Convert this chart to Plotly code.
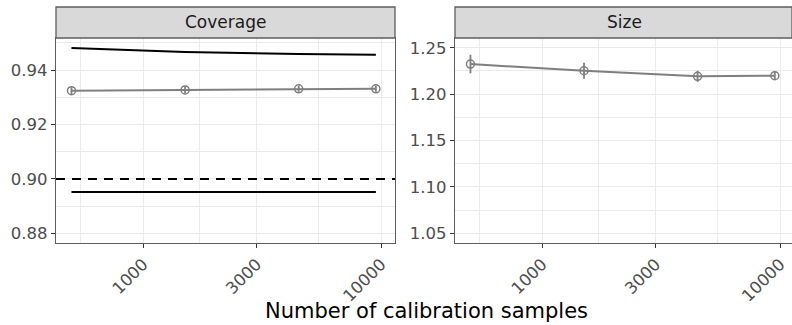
import plotly.graph_objects as go

# ---------------- data ----------------
n_samples = [500, 1500, 4500, 9500]
coverage = [0.9324, 0.9327, 0.9331, 0.9331]
coverage_err = [0.0013, 0.0012, 0.0011, 0.0011]
upper_bound = [0.9481, 0.9466, 0.9459, 0.9456]
lower_bound = [0.8952, 0.8952, 0.8952, 0.8952]
target_coverage = 0.90
size = [1.2324, 1.2252, 1.2192, 1.2199]
size_err = [0.0100, 0.0085, 0.0060, 0.0045]
panels = ["Coverage", "Size"]
x_ticks = [1000, 3000, 10000]
x_minor = [548, 1732, 5477]
cov_ticks = [0.88, 0.90, 0.92, 0.94]
cov_minor = [0.87, 0.89, 0.91, 0.93, 0.95]
size_ticks = [1.05, 1.10, 1.15, 1.20, 1.25]
size_minor = [1.025, 1.075, 1.125, 1.175, 1.225, 1.275]
x_title = "Number of calibration samples"

# ---------------- style ----------------
W, H = 792, 325
FONT = "DejaVu Sans"
GREY = "#7F7F7F"
GRID = "#EBEBEB"
BORDER = "#5E5E5E"
TICKC = "#333333"
TICKTXT = "#4D4D4D"

fig = go.Figure()

# Coverage panel
fig.add_trace(go.Scatter(x=n_samples, y=upper_bound, mode="lines",
                         line=dict(color="black", width=2), xaxis="x", yaxis="y",
                         showlegend=False, hoverinfo="skip"))
fig.add_trace(go.Scatter(x=n_samples, y=lower_bound, mode="lines",
                         line=dict(color="black", width=2), xaxis="x", yaxis="y",
                         showlegend=False, hoverinfo="skip"))
fig.add_trace(go.Scatter(x=n_samples, y=coverage, mode="lines+markers",
                         line=dict(color=GREY, width=2),
                         marker=dict(symbol="circle-open", size=8, color=GREY,
                                     line=dict(width=1.5, color=GREY)),
                         error_y=dict(type="data", array=coverage_err, width=0,
                                      color=GREY, thickness=1.8),
                         xaxis="x", yaxis="y", showlegend=False))

# Size panel
fig.add_trace(go.Scatter(x=n_samples, y=size, mode="lines+markers",
                         line=dict(color=GREY, width=2),
                         marker=dict(symbol="circle-open", size=8, color=GREY,
                                     line=dict(width=1.5, color=GREY)),
                         error_y=dict(type="data", array=size_err, width=0,
                                      color=GREY, thickness=1.8),
                         xaxis="x2", yaxis="y2", showlegend=False))

# dashed target line
fig.add_shape(type="line", xref="x domain", yref="y", x0=0, x1=1,
              y0=target_coverage, y1=target_coverage,
              line=dict(color="black", width=2, dash="9px,7px"), layer="above")

px = lambda v: v / W
py = lambda v: 1 - v / H

xd1 = [px(56), px(395)]
xd2 = [px(455), 1.0]
yd = [py(243), py(38)]
xrange1 = [2.634, 4.058]
xrange2 = [2.634, 4.050]

common_x = dict(type="log", tickvals=x_ticks, ticktext=[str(v) for v in x_ticks],
                tickangle=-45, ticks="outside", ticklen=4, tickwidth=1.4,
                tickcolor=TICKC, showgrid=True, gridcolor=GRID, gridwidth=1.2,
                minor=dict(tickvals=x_minor, showgrid=True, gridcolor=GRID, gridwidth=0.6),
                showline=True, linecolor=BORDER, linewidth=1.3, mirror=True,
                zeroline=False, automargin=False,
                tickfont=dict(family=FONT, size=16.5, color=TICKTXT))
common_y = dict(ticks="outside", ticklen=4, tickwidth=1.4, tickcolor=TICKC,
                showgrid=True, gridcolor=GRID, gridwidth=1.2,
                showline=True, linecolor=BORDER, linewidth=1.3, mirror=True,
                zeroline=False, automargin=False,
                tickfont=dict(family=FONT, size=16.5, color=TICKTXT))

fig.update_layout(
    width=W, height=H, margin=dict(l=0, r=0, t=0, b=0),
    template="none", paper_bgcolor="white", plot_bgcolor="white",
    xaxis=dict(domain=xd1, range=xrange1, anchor="y", **common_x),
    xaxis2=dict(domain=xd2, range=xrange2, anchor="y2", **common_x),
    yaxis=dict(domain=yd, range=[0.87644, 0.95176], anchor="x",
               tickvals=cov_ticks, ticktext=[f"{v:.2f}" for v in cov_ticks],
               minor=dict(tickvals=cov_minor, showgrid=True, gridcolor=GRID, gridwidth=0.6),
               **common_y),
    yaxis2=dict(domain=yd, range=[1.0395, 1.2605], anchor="x2",
                tickvals=size_ticks, ticktext=[f"{v:.2f}" for v in size_ticks],
                minor=dict(tickvals=size_minor, showgrid=True, gridcolor=GRID, gridwidth=0.6),
                **common_y),
    showlegend=False,
)

# facet strips
strip_centers = [(56 + 395) / 2, (455 + 794) / 2]
for dom, label, cx in zip([xd1, xd2], panels, strip_centers):
    fig.add_shape(type="rect", xref="paper", yref="paper",
                  x0=dom[0], x1=dom[1], y0=yd[1], y1=py(7),
                  fillcolor="#D9D9D9", line=dict(color=BORDER, width=1.3), layer="above")
    fig.add_annotation(x=px(cx), y=(yd[1] + py(7)) / 2, xref="paper", yref="paper",
                       text=label, showarrow=False, xanchor="center", yanchor="middle",
                       font=dict(family=FONT, size=17, color="#1A1A1A"))

fig.add_annotation(x=px(426), y=py(311), xref="paper", yref="paper",
                   text=x_title, showarrow=False, xanchor="center", yanchor="middle",
                   font=dict(family=FONT, size=21, color="black"))

fig.write_html("out.html")
